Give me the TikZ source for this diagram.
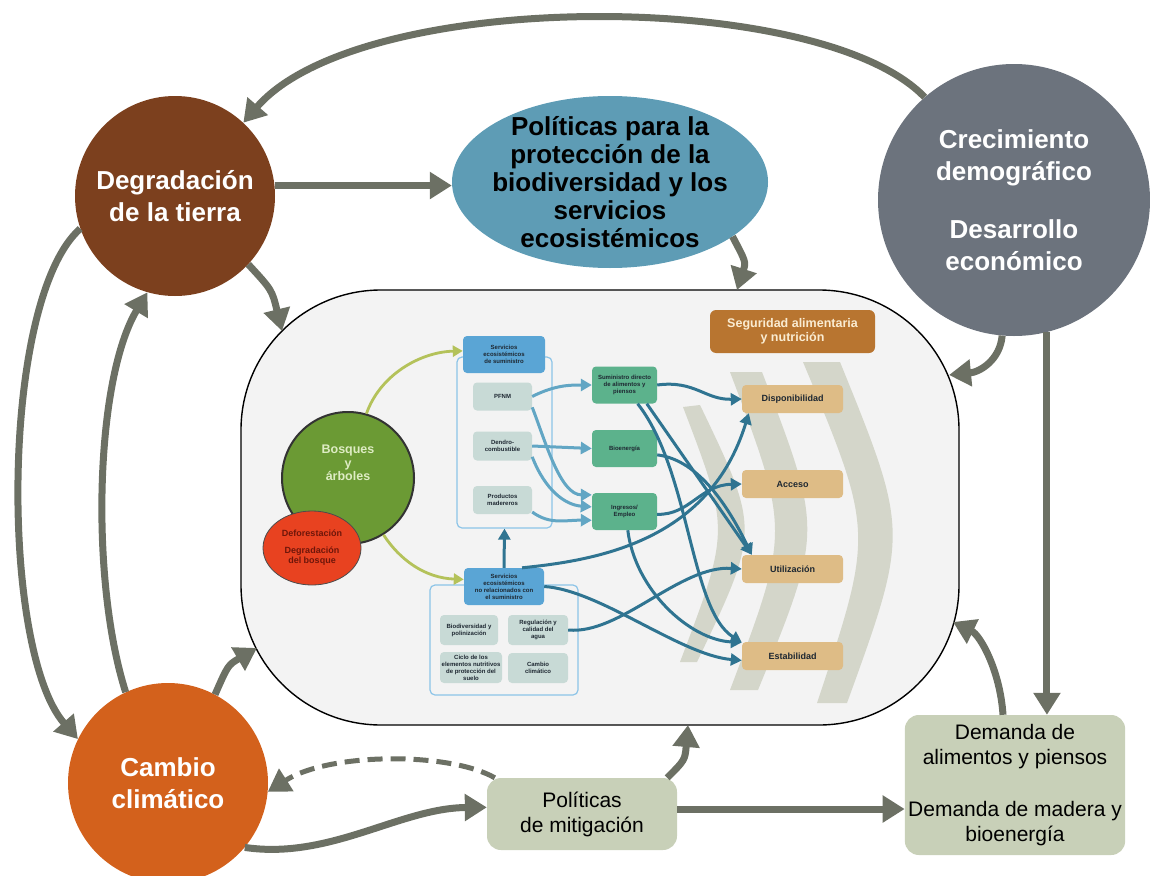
\documentclass[tikz,border=0pt]{standalone}
\usepackage{fontspec}
\setmainfont{Liberation Sans}
\usetikzlibrary{shapes.geometric, arrows.meta, calc}

\definecolor{tierra}{RGB}{124,64,30}
\definecolor{lago}{RGB}{94,156,181}
\definecolor{pizarra}{RGB}{108,115,125}
\definecolor{naranja}{RGB}{211,97,28}
\definecolor{salvia}{RGB}{200,208,184}
\definecolor{flecha}{RGB}{108,112,100}
\definecolor{fondo}{RGB}{243,243,243}
\definecolor{bosque}{RGB}{107,154,52}
\definecolor{hoja}{RGB}{222,236,196}
\definecolor{rojo}{RGB}{232,66,32}
\definecolor{granate}{RGB}{110,22,10}
\definecolor{celeste}{RGB}{90,165,213}
\definecolor{gris}{RGB}{200,218,214}
\definecolor{menta}{RGB}{92,178,140}
\definecolor{trigo}{RGB}{222,188,134}
\definecolor{ocre}{RGB}{184,117,48}
\definecolor{crema}{RGB}{250,236,210}
\definecolor{banda}{RGB}{212,214,202}
\definecolor{enlace}{RGB}{47,116,145}
\definecolor{enlaceclaro}{RGB}{98,166,196}
\definecolor{brote}{RGB}{180,194,90}
\definecolor{marco}{RGB}{140,196,232}
\definecolor{tinta}{RGB}{30,40,50}

\tikzset{
    hub/.style = {circle, inner sep=0pt, align=center, font=\bfseries\fontsize{26}{32}\selectfont},
    softbox/.style = {rectangle, rounded corners=14pt, fill=salvia, align=center, font=\fontsize{21}{25}\selectfont},
    tinybox/.style = {rectangle, rounded corners=4pt, inner sep=1pt, align=center, text=tinta, font=\bfseries\fontsize{6}{7}\selectfont},
    palebox/.style = {tinybox, fill=gris, minimum width=59pt, minimum height=28pt},
    mintbox/.style = {tinybox, fill=menta, minimum width=65pt, minimum height=37pt},
    foodbox/.style = {tinybox, fill=trigo, minimum width=101pt, minimum height=28pt, font=\bfseries\fontsize{9}{10}\selectfont},
    bigarrow/.style = {draw=flecha, line width=7pt, -{Triangle[length=22pt,width=26pt]}},
    bluelink/.style = {draw=enlace, line width=3pt, -{Triangle[length=11pt,width=12pt]}},
    palelink/.style = {bluelink, draw=enlaceclaro},
    sprout/.style = {draw=brote, line width=2.8pt, -{Triangle[length=10pt,width=11pt]}},
}

\begin{document}
\begin{tikzpicture}[x=1pt, y=-1pt]
\useasboundingbox (0,0) rectangle (1150,875);

\node[draw=black, line width=1.4pt, fill=fondo, rounded corners=140pt, minimum width=718pt, minimum height=435pt] (panel) at (600,507.5) {};
\fill[banda] (700,405) .. controls (760,530) .. (697,662) -- (680,662) .. controls (730,530) .. (683,407) -- cycle;
\fill[banda] (762,372) .. controls (823,531) .. (758,690) -- (730,690) .. controls (790,531) .. (730,372) -- cycle;
\fill[banda] (840,362) .. controls (909,532) .. (847,703) -- (817,703) .. controls (874,532) .. (803,362) -- cycle;

\node[hub, fill=tierra, text=white, minimum size=200pt] (deg) at (175,196) {Degradación\\de la tierra};
\node[ellipse, fill=lago, minimum width=316pt, minimum height=172pt, inner sep=-40pt, align=center, font=\bfseries\fontsize{26}{28}\selectfont] (pol) at (610,182) {Políticas para la\\protección de la\\biodiversidad y los\\servicios\\ecosistémicos};
\node[hub, fill=pizarra, text=white, minimum size=272pt] (crec) at (1014,200) {Crecimiento\\demográfico\\[26pt]Desarrollo\\económico};
\node[hub, fill=naranja, text=white, minimum size=200pt] (camb) at (168,783) {Cambio\\climático};
\node[softbox, minimum width=190pt, minimum height=72pt] (mit) at (582,814) {Políticas\\de mitigación};
\node[softbox, minimum width=220pt, minimum height=140pt] (dem) at (1015,785) {Demanda de\\alimentos y piensos\\[27pt]Demanda de madera y\\bioenergía};

\coordinate (tippol) at (737,290);
\coordinate (tipdeg) at (282,331);
\coordinate (tipcrec) at (949,375);
\coordinate (tipdem) at (953,622);
\coordinate (tipcamb) at (257,648);
\coordinate (tipmit) at (688,725);

\draw[bigarrow] (crec.131) .. controls (820,-12) and (360,-12) .. (deg.47);
\draw[bigarrow] (deg.6) -- (deg.6 -| pol.west);
\draw[bigarrow] (pol.-24) .. controls (746,262) .. (tippol);
\draw[bigarrow] (deg.-43) .. controls (272,290) .. (tipdeg);
\draw[bigarrow] (crec.-95) .. controls (1000,360) and (980,372) .. (tipcrec);
\draw[bigarrow] (crec.-76) -- (crec.-76 |- dem.north);
\draw[bigarrow] ([xshift=-12pt]dem.north) .. controls (1000,670) and (980,635) .. (tipdem);
\draw[bigarrow] (deg.199) .. controls (0,300) and (0,650) .. (camb.154);
\draw[bigarrow] (camb.115) .. controls (90,580) and (95,380) .. (deg.-106);
\draw[bigarrow] (camb.62) .. controls (228,665) .. (tipcamb);
\draw[bigarrow] (camb.-40) .. controls (330,860) and (400,808) .. (mit.176);
\draw[bigarrow, line width=5pt, dash pattern=on 15pt off 8pt] ([xshift=8pt]mit.north west) .. controls (450,752) and (330,752) .. (camb.-5);
\draw[bigarrow] ([xshift=-10pt]mit.north east) .. controls (685,760) .. (tipmit);
\draw[bigarrow] ([yshift=5pt]mit.east) -- ([yshift=5pt]mit.east -| dem.west);

\node[draw=marco, line width=1.2pt, rounded corners=5pt, minimum width=95pt, minimum height=171pt] (caja1) at (504.5,442.5) {};
\node[draw=marco, line width=1.2pt, rounded corners=5pt, minimum width=148pt, minimum height=110pt] (caja2) at (504,640) {};

\node[circle, draw=black!80, line width=2pt, fill=bosque, minimum size=132pt] (bosq) at (348,478) {};
\node[text=hoja, align=center, font=\bfseries\fontsize{12.5}{13.5}\selectfont] (bosqtxt) at ([yshift=15pt]bosq.center) {Bosques\\y\\árboles};
\node[ellipse, draw=black!70, line width=0.8pt, fill=rojo, minimum width=98pt, minimum height=74pt, inner sep=-10pt, text=granate, align=center, font=\bfseries\fontsize{9}{10}\selectfont] (defo) at (312,548) {Deforestación\\[7pt]Degradación\\del bosque};

\node[tinybox, fill=celeste, minimum width=82pt, minimum height=37pt] (sum) at (504,354.5) {Servicios\\ecosistémicos\\de suministro};
\node[palebox] (pfnm) at (502.5,396.5) {PFNM};
\node[palebox, minimum height=29pt] (dendro) at (502.5,446) {Dendro-\\combustible};
\node[palebox] (prod) at (502.5,500) {Productos\\madereros};

\node[tinybox, fill=celeste, minimum width=80pt, minimum height=37pt] (nsum) at (504,586.5) {Servicios\\ecosistémicos\\no relacionados con\\el suministro};
\node[palebox, minimum width=58pt, minimum height=30pt] (biod) at (469,630) {Biodiversidad y\\polinización};
\node[palebox, minimum width=60pt, minimum height=30pt] (regu) at (538,630) {Regulación y\\calidad del\\agua};
\node[palebox, minimum width=62pt, minimum height=31pt] (ciclo) at (471,667.5) {Ciclo de los\\elementos nutritivos\\de protección del\\suelo};
\node[palebox, minimum width=60pt, minimum height=30pt] (ccli) at (538,668) {Cambio\\climático};

\node[mintbox] (dir) at (624.5,385) {Suministro directo\\de alimentos y\\piensos};
\node[mintbox] (bio) at (624.5,448.5) {Bioenergía};
\node[mintbox] (ing) at (624.5,511.5) {Ingresos/\\Empleo};

\node[tinybox, fill=ocre, rounded corners=6pt, minimum width=165pt, minimum height=43pt, text=crema, font=\bfseries\fontsize{12.5}{14}\selectfont] (seg) at (792.5,331.5) {Seguridad alimentaria\\y nutrición};
\node[foodbox] (disp) at (792.5,399) {Disponibilidad};
\node[foodbox] (acc) at (792.5,484) {Acceso};
\node[foodbox] (util) at (792.5,569) {Utilización};
\node[foodbox] (estab) at (792.5,656) {Estabilidad};

\draw[sprout] (bosq.74) .. controls (380,375) and (420,352) .. (sum.175);
\draw[sprout] (bosq.-58) .. controls (400,560) and (425,578) .. (nsum.170);

\draw[palelink] (pfnm.east) .. controls (555,385) and (570,385) .. (dir.west);
\draw[palelink] (pfnm.-20) .. controls (545,440) and (560,495) .. (ing.153);
\draw[palelink] (dendro.east) -- (bio.west);
\draw[palelink] (dendro.-20) .. controls (545,490) and (565,505) .. (ing.172);
\draw[palelink] (prod.-22) .. controls (550,525) and (565,520) .. (ing.195);
\draw[bluelink] (nsum.north) -- (caja1.south);

\draw[bluelink] (dir.east) .. controls (695,380) and (705,400) .. (disp.west);
\draw[bluelink] (dir.-40) -- ([xshift=10pt]util.north west);
\draw[bluelink] (dir.-55) .. controls (690,470) and (690,610) .. (estab.165);
\draw[bluelink] (bio.-11) .. controls (700,460) and (730,510) .. ([xshift=10pt]util.north west);
\draw[bluelink] (ing.-5) .. controls (690,515) and (700,485) .. (acc.west);
\draw[bluelink] (ing.-80) .. controls (635,590) and (690,640) .. (estab.165);
\draw[bluelink] (nsum.46) .. controls (600,560) and (710,540) .. (disp.-162);
\draw[bluelink] (nsum.east) .. controls (600,590) and (680,655) .. (estab.-175);
\draw[bluelink] (regu.east) .. controls (620,635) and (680,565) .. (util.west);
\end{tikzpicture}
\end{document}
